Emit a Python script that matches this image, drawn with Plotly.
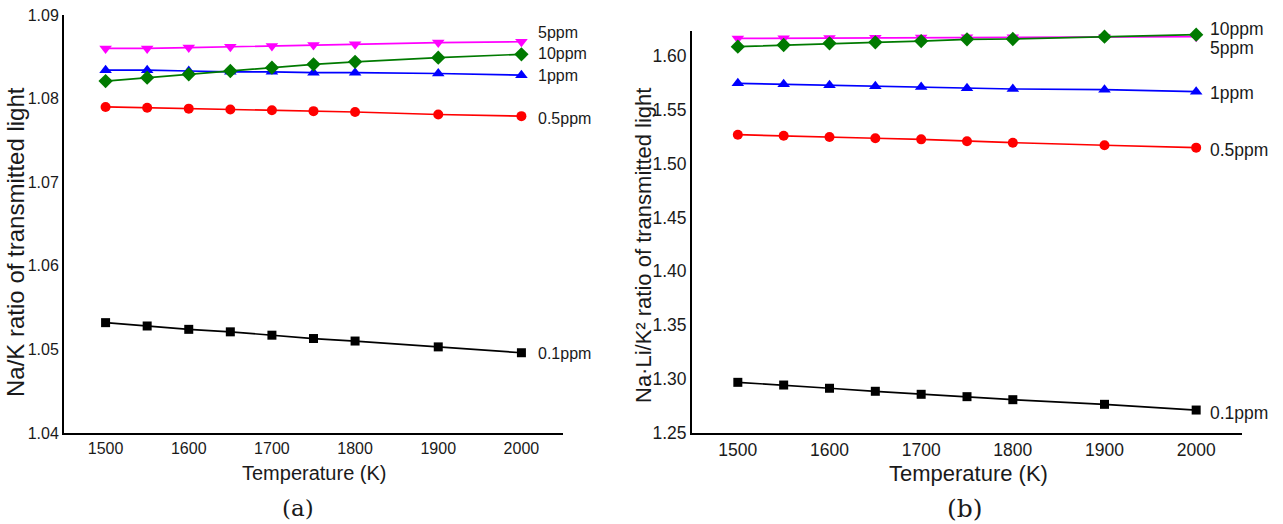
import plotly.graph_objects as go

# Temperatures (K) at which the ratios were computed
temperature = [1500, 1550, 1600, 1650, 1700, 1750, 1800, 1900, 2000]

# (a) Na/K ratio of transmitted light
nak_01ppm = [1.0532, 1.0528, 1.0524, 1.0521, 1.0517, 1.0513, 1.0510, 1.0503, 1.0496]
nak_05ppm = [1.0790, 1.0789, 1.0788, 1.0787, 1.0786, 1.0785, 1.0784, 1.0781, 1.0779]
nak_1ppm = [1.0834, 1.0834, 1.0833, 1.0832, 1.0832, 1.0831, 1.0831, 1.0830, 1.0828]
nak_5ppm = [1.0860, 1.0860, 1.0861, 1.0862, 1.0863, 1.0864, 1.0865, 1.0867, 1.0868]
nak_10ppm = [1.0821, 1.0825, 1.0829, 1.0833, 1.0837, 1.0841, 1.0844, 1.0849, 1.0853]

# (b) Na·Li/K² ratio of transmitted light
nalik_01ppm = [1.2970, 1.2945, 1.2915, 1.2887, 1.2859, 1.2837, 1.2809, 1.2766, 1.2713]
nalik_05ppm = [1.5267, 1.5258, 1.5246, 1.5234, 1.5224, 1.5206, 1.5193, 1.5169, 1.5147]
nalik_1ppm = [1.5744, 1.5735, 1.5725, 1.5716, 1.5710, 1.5697, 1.5691, 1.5685, 1.5666]
nalik_5ppm = [1.6160, 1.6162, 1.6164, 1.6166, 1.6168, 1.6170, 1.6171, 1.6174, 1.6176]
nalik_10ppm = [1.6084, 1.6099, 1.6115, 1.6124, 1.6136, 1.6152, 1.6155, 1.6176, 1.6195]

series_names = ["0.1ppm", "0.5ppm", "1ppm", "5ppm", "10ppm"]
x_ticks = [1500, 1600, 1700, 1800, 1900, 2000]

W, H = 1283, 524
FONT = "Arial, 'Liberation Sans', sans-serif"
TXT = "#1a1a1a"

styles = {
    "0.1ppm": dict(color="#000000", symbol="square", size=9),
    "0.5ppm": dict(color="#ff0000", symbol="circle", size=10),
    "1ppm": dict(color="#0000ff", symbol="triangle-up", size=11),
    "5ppm": dict(color="#ff00ff", symbol="triangle-down", size=11),
    "10ppm": dict(color="#007a00", symbol="diamond", size=11),
}


def px_x(p):
    return p / W


def px_y(p):
    return 1 - p / H


fig = go.Figure()

panel_a = dict(zip(series_names, [nak_01ppm, nak_05ppm, nak_1ppm, nak_5ppm, nak_10ppm]))
panel_b = dict(zip(series_names, [nalik_01ppm, nalik_05ppm, nalik_1ppm, nalik_5ppm, nalik_10ppm]))

for axes, data in ((("x", "y"), panel_a), (("x2", "y2"), panel_b)):
    for name in series_names:
        st = styles[name]
        fig.add_trace(go.Scatter(
            x=temperature, y=data[name], mode="lines+markers", name=name,
            xaxis=axes[0], yaxis=axes[1], showlegend=False, cliponaxis=False,
            line=dict(color=st["color"], width=1.7),
            marker=dict(color=st["color"], symbol=st["symbol"], size=st["size"],
                        line=dict(width=0)),
        ))

axis_common = dict(showgrid=False, zeroline=False, showline=True, linecolor="black",
                   linewidth=2, ticks="", mirror=False, automargin=False)

fig.update_layout(
    width=W, height=H, margin=dict(l=0, r=0, t=0, b=0, autoexpand=False),
    paper_bgcolor="white", plot_bgcolor="white",
    font=dict(family=FONT, color=TXT),
    xaxis=dict(axis_common, domain=[px_x(64), px_x(563)], range=[1450, 2050],
               tickvals=x_ticks, anchor="y", tickfont=dict(size=16)),
    yaxis=dict(axis_common, domain=[px_y(433), px_y(15)], range=[1.04, 1.09],
               dtick=0.01, tick0=1.04, tickformat=".2f", anchor="x",
               tickfont=dict(size=16)),
    xaxis2=dict(axis_common, domain=[px_x(692), px_x(1242)], range=[1450, 2050],
                tickvals=x_ticks, anchor="y2", tickfont=dict(size=17.5)),
    yaxis2=dict(axis_common, domain=[px_y(433), px_y(31)], range=[1.25, 1.6229],
                dtick=0.05, tick0=1.25, tickformat=".2f", anchor="x2",
                tickfont=dict(size=17.5)),
)

# Series labels at the right-hand end of each curve (pixel positions on the page)
labels_a = {"5ppm": 33, "10ppm": 53, "1ppm": 75, "0.5ppm": 118, "0.1ppm": 353}
labels_b = {"10ppm": 29, "5ppm": 48, "1ppm": 93, "0.5ppm": 150, "0.1ppm": 413}
for left, labels, size in ((536, labels_a, 16), (1208, labels_b, 17.5)):
    for name, py in labels.items():
        fig.add_annotation(x=px_x(left), y=px_y(py), xref="paper", yref="paper", text=name,
                           showarrow=False, xanchor="left", yanchor="middle",
                           font=dict(size=size, family=FONT, color=TXT))

# Axis titles and panel tags
titles = [
    ("Temperature (K)", 314, 473, 0, 20, FONT),
    ("Temperature (K)", 968, 473, 0, 22, FONT),
    ("Na/K ratio of transmitted light", 15, 242, -90, 24, FONT),
    ("Na·Li/K² ratio of transmitted light", 644, 246, -90, 22, FONT),
    ("(a)", 298, 508, 0, 23, "'DejaVu Serif', serif"),
    ("(b)", 965, 508, 0, 25, "'DejaVu Serif', serif"),
]
for text, cx, cy, ang, size, fam in titles:
    fig.add_annotation(x=px_x(cx), y=px_y(cy), xref="paper", yref="paper", text=text,
                       showarrow=False, textangle=ang, xanchor="center", yanchor="middle",
                       font=dict(size=size, family=fam, color=TXT))

fig.write_html("out.html")
